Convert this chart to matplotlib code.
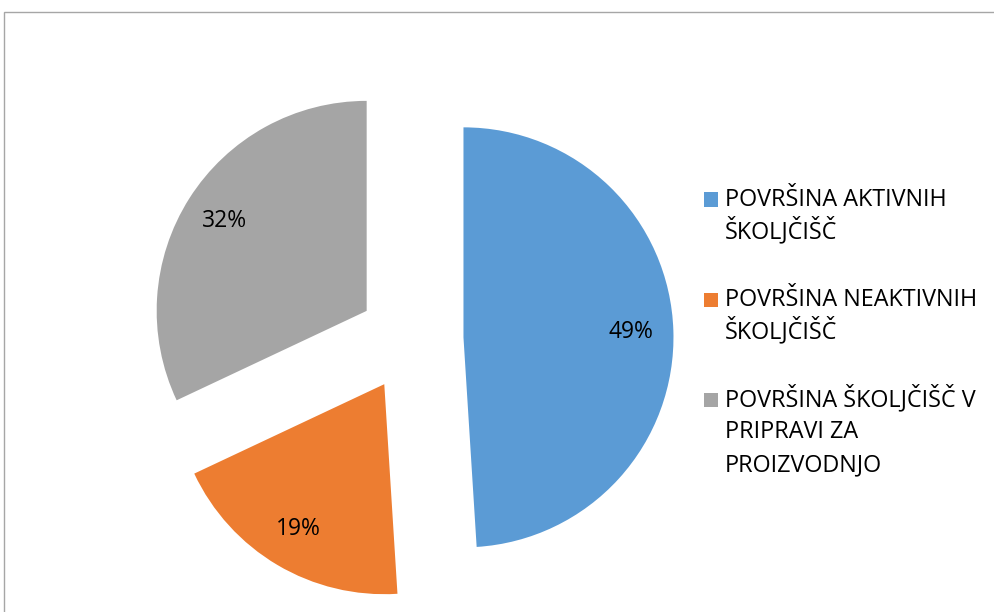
import matplotlib
matplotlib.use("Agg")
import matplotlib.pyplot as plt
from matplotlib.patches import Rectangle

labels = ["POVRŠINA AKTIVNIH\nŠKOLJČIŠČ", "POVRŠINA NEAKTIVNIH\nŠKOLJČIŠČ",
          "POVRŠINA ŠKOLJČIŠČ V\nPRIPRAVI ZA\nPROIZVODNJO"]
values = [49, 19, 32]
colors = ["#5B9BD5", "#ED7D31", "#A5A5A5"]
explode = [0.25, 0.25, 0.25]

W, H = 995, 612
plt.rcParams['font.family'] = ['Open Sans', 'DejaVu Sans']
fig = plt.figure(figsize=(W / 100, H / 100), dpi=100)
fig.patch.set_facecolor("white")

cx, cy, R = 411, 339, 210
ax = fig.add_axes([0, 0, 1, 1])
wedges, texts, autotexts = ax.pie(values, explode=explode, colors=colors, startangle=90,
                                  counterclock=False, autopct='%1.0f%%', pctdistance=0.8,
                                  radius=1, textprops=dict(fontsize=16.5, color='black'))
ax.set_xlim(-cx / R, (W - cx) / R)
ax.set_ylim(-(H - cy) / R, cy / R)
ax.set_aspect('auto')
ax.axis('off')

fig.patches.append(Rectangle((4 / W, -0.1), 1.2, 1 - 12 / H + 0.1, transform=fig.transFigure,
                             fill=False, edgecolor='#A6A6A6', linewidth=1.0))

# legend (square markers aligned with first line, as in the original)
first_baselines = [206, 306, 406]
line_step = 32.5
for lab, col, b in zip(labels, colors, first_baselines):
    fig.patches.append(Rectangle((704 / W, 1 - (b + 0.5) / H), 14 / W, 14 / H,
                                 transform=fig.transFigure, facecolor=col, edgecolor='none'))
    for i, line in enumerate(lab.split("\n")):
        fig.text(725 / W, 1 - (b + i * line_step) / H, line, fontsize=16.8,
                 ha='left', va='baseline', color='black')

fig.savefig("out.png", dpi=100)
